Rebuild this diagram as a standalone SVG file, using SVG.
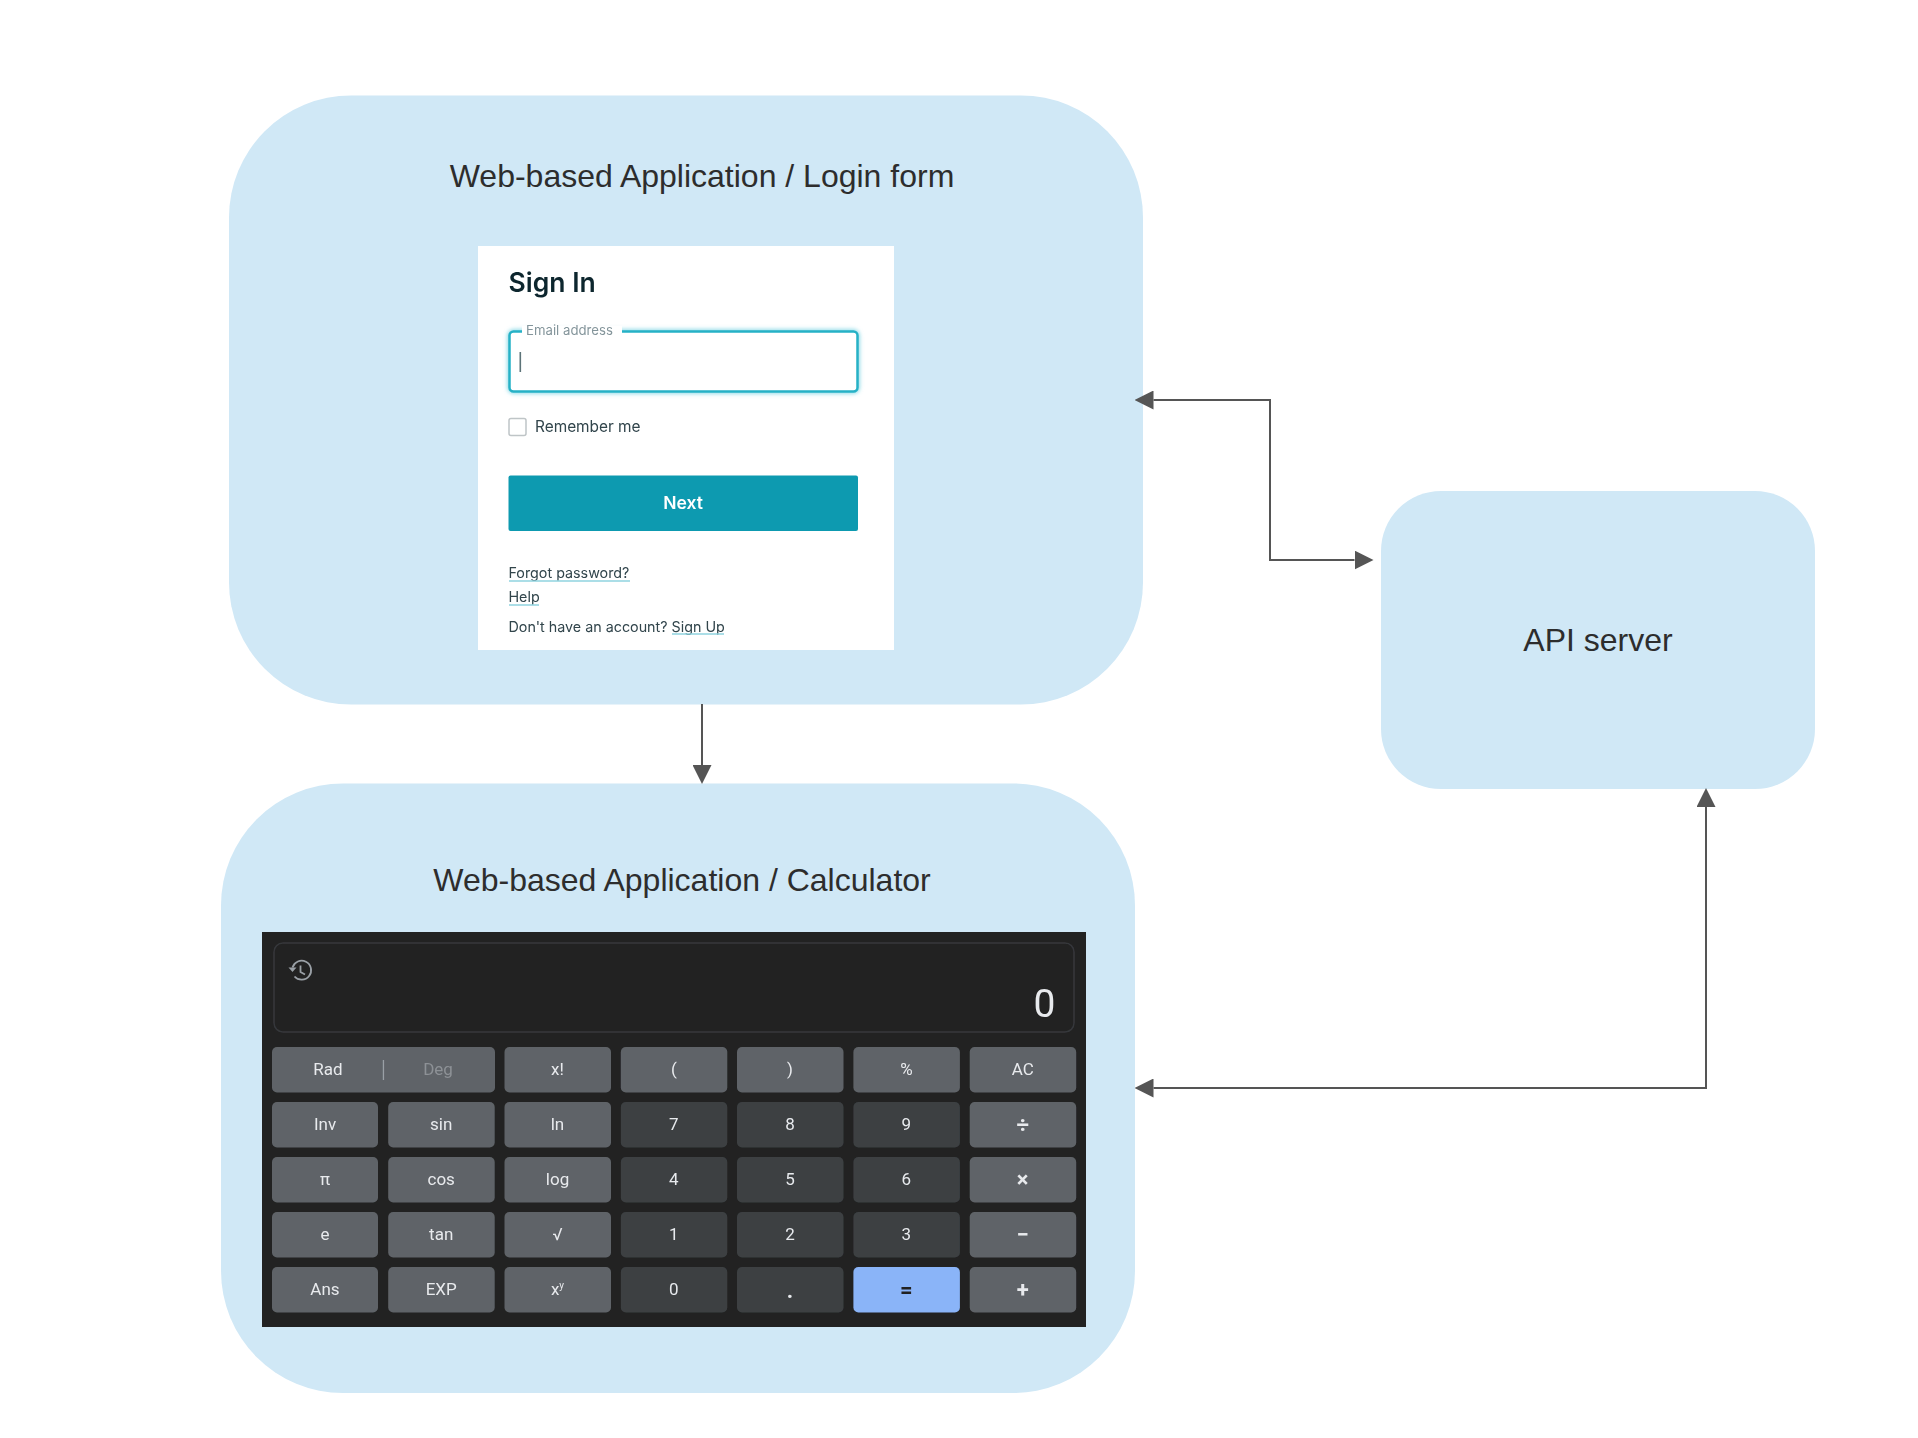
<svg xmlns="http://www.w3.org/2000/svg" width="1918" height="1438" viewBox="0 0 1918 1438">
<style>
.box{fill:#d0e8f6}
.title{font:32px "Liberation Sans",Arial,sans-serif;fill:#2d2d2d;text-anchor:middle}
.conn{fill:none;stroke:#555;stroke-width:2;marker-end:url(#head)}
.both{marker-start:url(#head)}
.form{font-family:Inter,"Liberation Sans",sans-serif;fill:#30444b;font-size:14.3px}
.ul{fill:none;stroke:#8fd3df;stroke-width:1.5}
.f{fill:#5f6368}.d{fill:#3c4043}.e{fill:#8ab4f8}
.k{font:17px Roboto,"Liberation Sans",sans-serif;fill:#e8eaed;text-anchor:middle}
.op{font-size:22px;font-weight:700}
</style>
<defs>
<marker id="head" markerUnits="userSpaceOnUse" markerWidth="19" markerHeight="19" refX="0" refY="9.5" orient="auto-start-reverse"><path d="M0 0L19 9.5L0 19z" fill="#555"/></marker>
<filter id="soft" x="-5%" y="-5%" width="110%" height="110%"><feGaussianBlur stdDeviation="0.45"/></filter>
<filter id="glow" x="-5%" y="-20%" width="110%" height="140%"><feGaussianBlur stdDeviation="2"/></filter>
</defs>
<rect width="1918" height="1438" fill="#fff"/>
<g id="login-node">
<rect class="box" x="229" y="95.500" width="914" height="609" rx="122"/>
<text class="title" x="702" y="187">Web-based Application / Login form</text>
<g id="login-form" filter="url(#soft)">
<rect x="478" y="246" width="416" height="404" fill="#fff"/>
<text x="508.500" y="292" font-family="Inter,'Liberation Sans',sans-serif" font-size="26.500" font-weight="600" fill="#10282f">Sign In</text>
<rect x="509.500" y="331.500" width="348" height="60" rx="4" fill="none" stroke="#7fd6e4" stroke-width="4" filter="url(#glow)"/>
<rect x="509.500" y="331.500" width="348" height="60" rx="4" fill="#fff" stroke="#25b1c6" stroke-width="2.500"/>
<rect x="522" y="326" width="100" height="10" fill="#fff"/>
<text x="526" y="335" font-family="Inter,'Liberation Sans',sans-serif" font-size="13.200" fill="#84959b">Email address</text>
<rect x="519.500" y="352" width="1.600" height="20" fill="#5c7378"/>
<rect x="509" y="418.500" width="17" height="17" rx="2" fill="#fff" stroke="#bfc5c7" stroke-width="1.500"/>
<text class="form" x="535" y="432" style="font-size:15.400px">Remember me</text>
<rect x="508.500" y="475.500" width="349.500" height="55.500" rx="2" fill="#119ab0"/>
<text x="683" y="508.500" font-family="Inter,'Liberation Sans',sans-serif" font-size="17.500" font-weight="600" fill="#fff" text-anchor="middle">Next</text>
<text class="form" x="508.500" y="578">Forgot password?</text>
<path class="ul" d="M509 581H630"/>
<text class="form" x="508.500" y="602">Help</text>
<path class="ul" d="M509 605H539"/>
<text class="form" x="508.500" y="631.500">Don't have an account? <tspan>Sign Up</tspan></text>
<path class="ul" d="M672 634H724"/>
</g>
</g>
<g id="calculator-node">
<rect class="box" x="221" y="783.500" width="914" height="609.500" rx="122"/>
<text class="title" x="682" y="891">Web-based Application / Calculator</text>
<g id="calculator" filter="url(#soft)">
<rect x="262" y="932" width="824" height="395" fill="#222"/>
<rect x="274" y="943" width="800" height="89" rx="9" fill="#222" stroke="#36373b" stroke-width="1.500"/>
<g transform="translate(-0.500 1)"><g fill="none" stroke="#9aa0a6" stroke-width="1.800"><path d="M293 966.500A9.500 9.500 0 1 1 295 975.500"/><path d="M301 964.500V971L305.500 973.500"/></g>
<path d="M289 966.500H297L293 971z" fill="#9aa0a6"/></g>
<text x="1055.500" y="1016.500" font-family="Roboto,'Liberation Sans',sans-serif" font-size="39" fill="#e8eaed" text-anchor="end">0</text>
<rect class="f" x="272" y="1047" width="223" height="45.500" rx="5"/>
<rect class="f" x="504.500" y="1047" width="106.500" height="45.500" rx="5"/>
<rect class="f" x="620.800" y="1047" width="106.500" height="45.500" rx="5"/>
<rect class="f" x="737" y="1047" width="106.500" height="45.500" rx="5"/>
<rect class="f" x="853.400" y="1047" width="106.500" height="45.500" rx="5"/>
<rect class="f" x="969.700" y="1047" width="106.500" height="45.500" rx="5"/>
<rect class="f" x="272" y="1102" width="106" height="45.500" rx="5"/>
<rect class="f" x="388.200" y="1102" width="106.500" height="45.500" rx="5"/>
<rect class="f" x="504.500" y="1102" width="106.500" height="45.500" rx="5"/>
<rect class="d" x="620.800" y="1102" width="106.500" height="45.500" rx="5"/>
<rect class="d" x="737" y="1102" width="106.500" height="45.500" rx="5"/>
<rect class="d" x="853.400" y="1102" width="106.500" height="45.500" rx="5"/>
<rect class="f" x="969.700" y="1102" width="106.500" height="45.500" rx="5"/>
<rect class="f" x="272" y="1157" width="106" height="45.500" rx="5"/>
<rect class="f" x="388.200" y="1157" width="106.500" height="45.500" rx="5"/>
<rect class="f" x="504.500" y="1157" width="106.500" height="45.500" rx="5"/>
<rect class="d" x="620.800" y="1157" width="106.500" height="45.500" rx="5"/>
<rect class="d" x="737" y="1157" width="106.500" height="45.500" rx="5"/>
<rect class="d" x="853.400" y="1157" width="106.500" height="45.500" rx="5"/>
<rect class="f" x="969.700" y="1157" width="106.500" height="45.500" rx="5"/>
<rect class="f" x="272" y="1212" width="106" height="45.500" rx="5"/>
<rect class="f" x="388.200" y="1212" width="106.500" height="45.500" rx="5"/>
<rect class="f" x="504.500" y="1212" width="106.500" height="45.500" rx="5"/>
<rect class="d" x="620.800" y="1212" width="106.500" height="45.500" rx="5"/>
<rect class="d" x="737" y="1212" width="106.500" height="45.500" rx="5"/>
<rect class="d" x="853.400" y="1212" width="106.500" height="45.500" rx="5"/>
<rect class="f" x="969.700" y="1212" width="106.500" height="45.500" rx="5"/>
<rect class="f" x="272" y="1267" width="106" height="45.500" rx="5"/>
<rect class="f" x="388.200" y="1267" width="106.500" height="45.500" rx="5"/>
<rect class="f" x="504.500" y="1267" width="106.500" height="45.500" rx="5"/>
<rect class="d" x="620.800" y="1267" width="106.500" height="45.500" rx="5"/>
<rect class="d" x="737" y="1267" width="106.500" height="45.500" rx="5"/>
<rect class="e" x="853.400" y="1267" width="106.500" height="45.500" rx="5"/>
<rect class="f" x="969.700" y="1267" width="106.500" height="45.500" rx="5"/>
<rect x="382.800" y="1060" width="1.300" height="20" fill="#9aa0a6"/>
<text class="k" x="328" y="1075">Rad</text><text class="k" x="438" y="1075" style="fill:#8d9196">Deg</text>
<text class="k" x="557.500" y="1075">x!</text><text class="k" x="673.800" y="1075">(</text><text class="k" x="790" y="1075">)</text><text class="k" x="906.400" y="1075">%</text><text class="k" x="1022.700" y="1075">AC</text>
<text class="k" x="325" y="1130">Inv</text><text class="k" x="441.200" y="1130">sin</text><text class="k" x="557.500" y="1130">ln</text><text class="k" x="673.800" y="1129.500">7</text><text class="k" x="790" y="1129.500">8</text><text class="k" x="906.400" y="1129.500">9</text><text class="k op" x="1022.700" y="1132">÷</text>
<text class="k" x="325" y="1185">π</text><text class="k" x="441.200" y="1185">cos</text><text class="k" x="557.500" y="1185">log</text><text class="k" x="673.800" y="1184.500">4</text><text class="k" x="790" y="1184.500">5</text><text class="k" x="906.400" y="1184.500">6</text><text class="k op" x="1022.700" y="1187">×</text>
<text class="k" x="325" y="1240">e</text><text class="k" x="441.200" y="1240">tan</text><text class="k" x="557.500" y="1240">√</text><text class="k" x="673.800" y="1239.500">1</text><text class="k" x="790" y="1239.500">2</text><text class="k" x="906.400" y="1239.500">3</text><text class="k op" x="1022.700" y="1242">−</text>
<text class="k" x="325" y="1295">Ans</text><text class="k" x="441.200" y="1295">EXP</text><text class="k" x="557.500" y="1295">x<tspan dy="-6" font-size="10">y</tspan></text><text class="k" x="673.800" y="1294.500">0</text><text class="k op" x="790" y="1298">.</text><text class="k op" x="906.400" y="1297" style="fill:#202124">=</text><text class="k op" x="1022.700" y="1297">+</text>
</g>
</g>
<g id="api-node">
<rect class="box" x="1381" y="491" width="434" height="298" rx="60"/>
<text class="title" x="1598" y="651">API server</text>
</g>
<g id="connectors">
<path class="conn both" d="M1153.500 400H1270V560H1354.500"/>
<path class="conn" d="M702 704V765"/>
<path class="conn both" d="M1153.500 1088H1706V807"/>
</g>
</svg>
